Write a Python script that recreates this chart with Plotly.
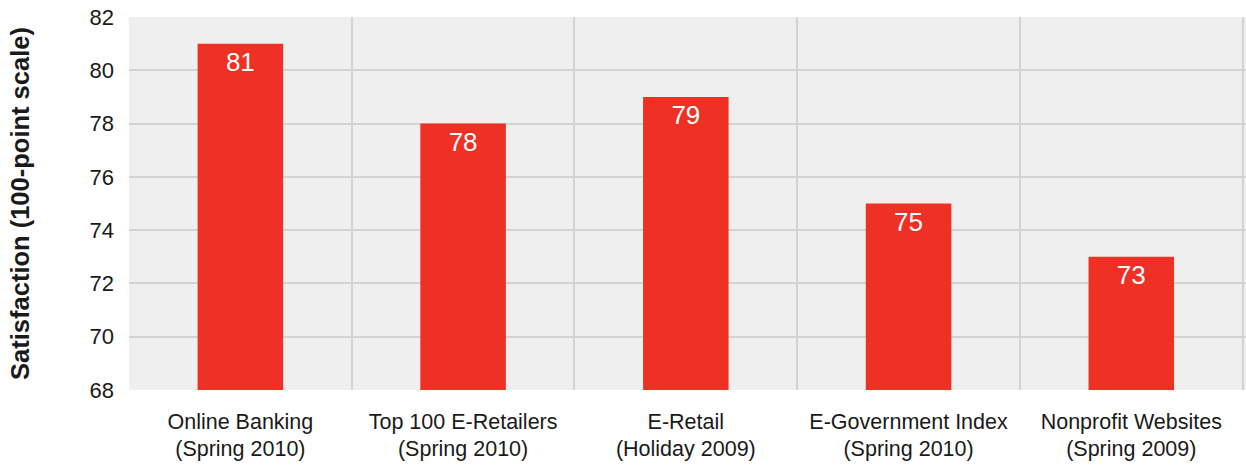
import plotly.graph_objects as go

# Satisfaction scores by segment
categories = [
    "Online Banking<br>(Spring 2010)",
    "Top 100 E-Retailers<br>(Spring 2010)",
    "E-Retail<br>(Holiday 2009)",
    "E-Government Index<br>(Spring 2010)",
    "Nonprofit Websites<br>(Spring 2009)",
]
scores = [81, 78, 79, 75, 73]
y_ticks = [68, 70, 72, 74, 76, 78, 80, 82]

BAR_RED = "#ee3124"
FONT = "Liberation Sans, Arial, sans-serif"

fig = go.Figure(
    go.Bar(
        x=categories,
        y=scores,
        width=0.384,
        marker=dict(color=BAR_RED, line=dict(width=0)),
        text=[str(v) for v in scores],
        textposition="inside",
        insidetextanchor="end",
        textfont=dict(color="white", size=26, family=FONT),
        textangle=0,
    )
)

fig.update_layout(
    width=1246,
    height=465,
    margin=dict(l=129, r=0, t=17, b=75),
    paper_bgcolor="white",
    plot_bgcolor="#efefef",
    font=dict(family=FONT, color="#1a1a1a"),
    showlegend=False,
    bargap=0.616,
)

fig.update_xaxes(
    type="category",
    tickson="boundaries",
    range=[-0.5, 4.515],
    showgrid=True,
    gridcolor="#d3d3d3",
    gridwidth=2,
    ticks="",
    ticklabelstandoff=16,
    tickfont=dict(size=21.5, family=FONT, color="#1a1a1a"),
    showline=False,
    zeroline=False,
)

fig.update_yaxes(
    range=[68, 82],
    tickvals=y_ticks,
    showgrid=True,
    gridcolor="#d3d3d3",
    gridwidth=2,
    ticks="",
    ticklabelstandoff=14,
    tickfont=dict(size=22, family=FONT, color="#1a1a1a"),
    zeroline=False,
    title=dict(
        text="<b>Satisfaction (100-point scale)</b>",
        font=dict(size=25.5, family=FONT, color="#1a1a1a"),
        standoff=52,
    ),
)

fig.write_html("out.html")
